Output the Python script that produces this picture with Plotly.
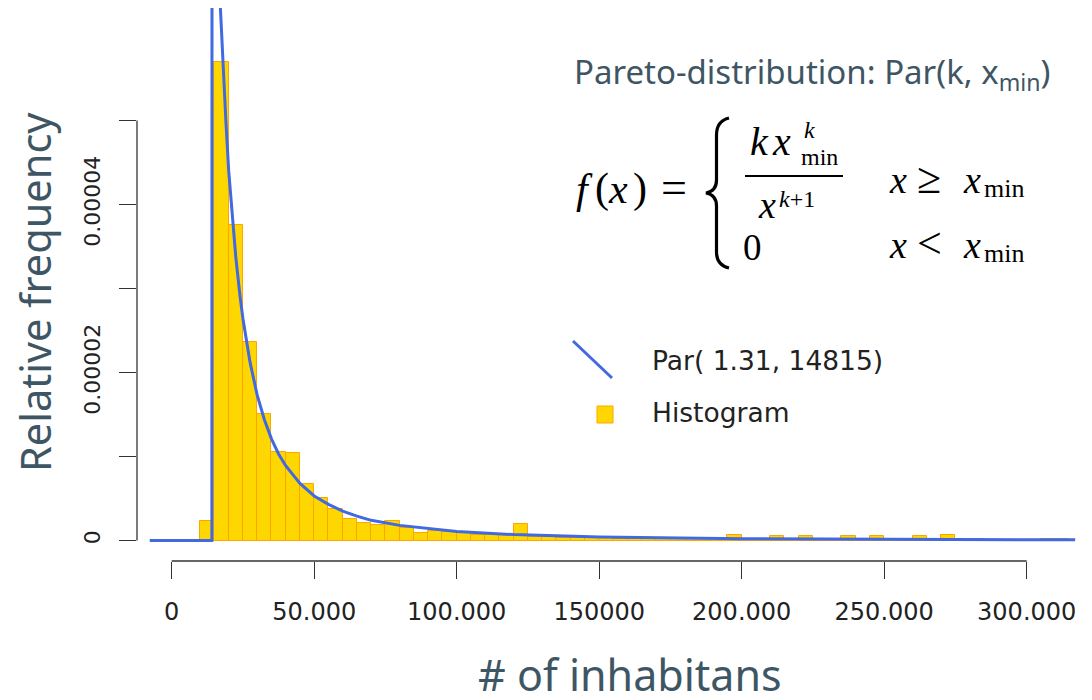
import plotly.graph_objects as go

# ---------------- data ----------------
# histogram bins: start of each 5000-wide bin, relative frequency in units of 1e-5
bin_starts = list(range(10000, 315000, 5000))
hist_e5 = [0.23, 5.70, 3.76, 2.36, 1.51, 1.05, 1.04, 0.67, 0.51, 0.37,
           0.26, 0.21, 0.18, 0.23, 0.15, 0.09, 0.11, 0.10, 0.09, 0.07,
           0.06, 0.06, 0.20, 0.04, 0.04, 0.035, 0.03, 0.025, 0.025, 0.02,
           0.02, 0.02, 0.015, 0.015, 0.015, 0.02, 0.0, 0.07, 0.01, 0.0,
           0.05, 0.01, 0.05, 0.0, 0.01, 0.05, 0.0, 0.05, 0.0, 0.01,
           0.05, 0.0, 0.07, 0.0, 0.02, 0.0, 0.0, 0.0, 0.0, 0.02, 0.02]
bin_width = 5000

# fitted Pareto curve Par(1.31, 14815) (1e-5 units)
curve_x = [-7700, 14100, 14150, 16000, 17000, 18000, 19000, 20000, 21000, 22500,
           24000, 25000, 27500, 30000, 32500, 35000, 37500, 40000, 45000, 50000,
           55000, 60000, 65000, 70000, 80000, 90000, 100000, 120000, 150000,
           200000, 250000, 317000]
curve_e5 = [0, 0, 8.8, 7.4, 6.4, 5.6, 5.0, 4.4, 3.95, 3.37,
            2.90, 2.64, 2.12, 1.73, 1.44, 1.21, 1.03, 0.89, 0.68, 0.53,
            0.43, 0.35, 0.29, 0.24, 0.18, 0.14, 0.107, 0.070, 0.042,
            0.022, 0.013, 0.0075]

x_tickvals = [0, 50000, 100000, 150000, 200000, 250000, 300000]
x_ticktext = ["0", "50.000", "100.000", "150000", "200.000", "250.000", "300.000"]
y_tickvals = [0, 1e-5, 2e-5, 3e-5, 4e-5, 5e-5]
y_ticktext = ["0", "", "0.00002", "", "0.00004", ""]

legend_curve = "Par( 1.31, 14815)"
legend_hist = "Histogram"

hist_y = [v * 1e-5 for v in hist_e5]
curve_y = [v * 1e-5 for v in curve_e5]
bin_centers = [s + bin_width / 2 for s in bin_starts]

# ---------------- layout geometry (screen pixels; page body has an 8px margin) ----------------
OFF = 8
FW, FH = 1092 - OFF, 700 - OFF
SL, SR, ST, SB = 137, 1085, 8, 561          # plot area on screen
ML, MR, MT, MB = SL - OFF, FW - (SR - OFF), ST - OFF, FH - (SB - OFF)

X0PX = 171.7
XS = 855.0 / 300000
Y0PX = 540.5
YS = 84.0 / 1e-5

xr = [(SL - X0PX) / XS, (SR - X0PX) / XS]
yr = [(Y0PX - SB) / YS, (Y0PX - ST) / YS]


def px(p):
    return (p - SL) / (SR - SL)


def py(p):
    return (SB - p) / (SB - ST)


TITLE_C = "#3e5664"
SERIF = "Liberation Serif"

fig = go.Figure()
fig.add_trace(go.Bar(
    x=bin_centers, y=hist_y, width=bin_width,
    marker=dict(color="#FFD700", line=dict(color="#FFA500", width=1)),
    showlegend=False, hoverinfo="skip"))
fig.add_trace(go.Scatter(
    x=curve_x, y=curve_y, mode="lines",
    line=dict(color="#4169E1", width=3), showlegend=False))

ann = []


def A(text, x, y, size, family, color="#000", xa="left", ya="middle", angle=0):
    ann.append(dict(text=text, x=px(x), y=py(y), xref="paper", yref="paper",
                    xanchor=xa, yanchor=ya, showarrow=False, textangle=angle,
                    font=dict(size=size, family=family, color=color)))


def Ab(text, x, baseline, size, family=SERIF, color="#000", xa="left", k=0.34):
    A(text, x, baseline - k * size, size, family, color, xa)


# titles
A("Relative frequency", 35, 292, 41.5, "Noto Sans", TITLE_C, "center", "middle", -90)
A("# of inhabitans", 630, 691 - 0.388 * 43, 43, "Noto Sans", TITLE_C, "center", "middle")
A("Pareto-distribution: Par(k, x<sub>min</sub>)", 572, 86 - 0.388 * 33, 33, "Noto Sans", TITLE_C)

# legend
A(legend_curve, 650, 370 - 0.346 * 26.5, 26.5, "DejaVu Sans", "#222")
A(legend_hist, 650, 422 - 0.346 * 26.5, 26.5, "DejaVu Sans", "#222")

# formula  f(x) = { k x_min^k / x^(k+1)   x >= x_min ;  0   x < x_min }
Ab("<i>f</i>", 574, 203, 42)
Ab("(", 593, 203, 42)
Ab("<i>x</i>", 606, 203, 42)
Ab(")", 631, 203, 42)
Ab("=", 674, 203, 46, xa="center")
Ab("<i>k</i>", 748, 155, 40)
Ab("<i>x</i>", 770, 155, 40)
Ab("<i>k</i>", 802, 138, 24)
Ab("min", 799, 165, 24)
Ab("<i>x</i>", 756, 218, 38)
Ab("<i>k</i>+1", 777, 207, 24)
Ab("<i>x</i>", 887, 193, 38)
Ab("≥", 929, 193, 44, xa="center")
Ab("<i>x</i>", 961, 193, 38)
Ab("min", 982, 197, 26)
Ab("0", 741, 260, 37)
Ab("<i>x</i>", 887, 258, 38)
Ab("&lt;", 929, 258, 44, xa="center")
Ab("<i>x</i>", 961, 258, 38)
Ab("min", 982, 262, 26)

shapes = []
# axis lines (R style, from first to last tick)
shapes.append(dict(type="line", xref="paper", yref="y", x0=0, x1=0, y0=0, y1=5e-5,
                   line=dict(color="#333", width=1.3)))
shapes.append(dict(type="line", xref="x", yref="paper", x0=0, x1=300000, y0=0, y1=0,
                   line=dict(color="#333", width=1.3)))
# legend symbols
shapes.append(dict(type="line", xref="paper", yref="paper",
                   x0=px(573), y0=py(341), x1=px(612), y1=py(378),
                   line=dict(color="#4169E1", width=3)))
shapes.append(dict(type="rect", xref="paper", yref="paper",
                   x0=px(597), y0=py(406), x1=px(613), y1=py(423),
                   fillcolor="#FFD700", line=dict(color="#FFA500", width=1)))
# fraction bar
shapes.append(dict(type="line", xref="paper", yref="paper",
                   x0=px(745), x1=px(843), y0=py(176), y1=py(176),
                   line=dict(color="#000", width=2)))


def P(x, y):
    return f"{px(x):.5f},{py(y):.5f}"


brace = (f"M {P(729,118)} Q {P(716.5,121)} {P(716.5,135)} L {P(716.5,180)} "
         f"Q {P(716.5,191)} {P(706,193)} Q {P(716.5,195)} {P(716.5,206)} "
         f"L {P(716.5,252)} Q {P(716.5,265)} {P(729,268)}")
shapes.append(dict(type="path", xref="paper", yref="paper", path=brace,
                   line=dict(color="#000", width=3.2)))

fig.update_layout(
    width=FW, height=FH, margin=dict(l=ML, r=MR, t=MT, b=MB, pad=0),
    paper_bgcolor="white", plot_bgcolor="white", bargap=0,
    xaxis=dict(range=xr, tickvals=x_tickvals, ticktext=x_ticktext,
               ticks="outside", ticklen=17, tickwidth=1.3, tickcolor="#333",
               showline=False, showgrid=False, zeroline=False,
               tickfont=dict(family="DejaVu Sans", size=24, color="#222"),
               ticklabelstandoff=12),
    yaxis=dict(range=yr, tickvals=y_tickvals, ticktext=y_ticktext,
               ticks="outside", ticklen=17, tickwidth=1.3, tickcolor="#333",
               showline=False, showgrid=False, zeroline=False, tickangle=-90,
               tickfont=dict(family="DejaVu Sans", size=22, color="#222"),
               ticklabelstandoff=10),
    annotations=ann, shapes=shapes, showlegend=False,
)

fig.write_html("out.html")
